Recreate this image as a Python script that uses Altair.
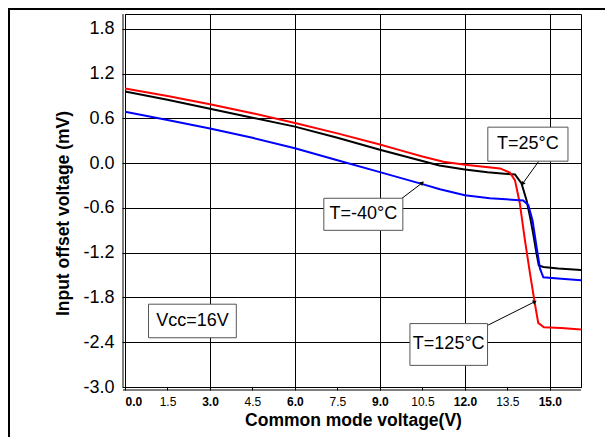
import altair as alt
import pandas as pd

# ---- data ----
x_25 = [0.0, 1.5, 3.0, 4.5, 6.0, 7.5, 9.0, 10.5, 11.1, 12.0, 12.8, 13.4, 13.77, 14.0, 14.18, 14.3, 14.41, 14.53, 14.61, 14.77, 15.3, 16.1]
y_25 = [0.96, 0.85, 0.73, 0.61, 0.49, 0.34, 0.18, 0.03, -0.03, -0.085, -0.12, -0.14, -0.15, -0.27, -0.50, -0.72, -0.94, -1.21, -1.37, -1.39, -1.41, -1.43]

x_125 = [0.0, 1.5, 3.0, 4.5, 6.0, 7.5, 9.0, 9.7, 10.5, 11.24, 12.0, 13.24, 13.59, 13.77, 13.94, 14.12, 14.3, 14.47, 14.59, 14.79, 15.4, 16.1]
y_125 = [1.00, 0.90, 0.79, 0.67, 0.54, 0.40, 0.25, 0.175, 0.09, 0.02, -0.02, -0.07, -0.125, -0.23, -0.54, -1.03, -1.48, -1.88, -2.14, -2.20, -2.21, -2.23]

x_m40 = [0.0, 1.5, 3.0, 4.5, 6.0, 7.5, 9.0, 10.41, 11.12, 12.0, 12.88, 14.06, 14.24, 14.39, 14.53, 14.65, 14.77, 15.4, 16.1]
y_m40 = [0.69, 0.58, 0.466, 0.34, 0.20, 0.04, -0.12, -0.27, -0.35, -0.43, -0.47, -0.50, -0.56, -0.77, -1.12, -1.41, -1.53, -1.55, -1.57]

series_names = ["T=25°C", "T=125°C", "T=-40°C"]
series_colors = ["#000000", "#ff0000", "#0000ff"]

x_ticks = [0.0, 1.5, 3.0, 4.5, 6.0, 7.5, 9.0, 10.5, 12.0, 13.5, 15.0]
y_ticks = [-3.0, -2.4, -1.8, -1.2, -0.6, 0.0, 0.6, 1.2, 1.8]

# annotation boxes
box_labels = ["T=25°C", "T=-40°C", "T=125°C", "Vcc=16V"]
box_x0 = [12.81, 7.02, 10.06, 0.83]
box_x1 = [15.64, 9.81, 12.80, 3.93]
box_y0 = [0.483, -0.47, -2.15, -1.89]
box_y1 = [0.027, -0.90, -2.71, -2.34]

# arrows (start x, start y, tip x, tip y, head angle)
arr_x = [14.61, 9.78, 12.82]
arr_y = [0.027, -0.47, -2.17]
arr_x2 = [14.05, 10.48, 14.45]
arr_y2 = [-0.268, -0.268, -1.86]
arr_angle = [216, 53, 63]

X_DOMAIN = [0.0, 16.1]
Y_DOMAIN = [-3.0, 2.0]
W, H = 456, 373
FONT = "Liberation Sans"
X_TITLE = "Common mode voltage(V)"
Y_TITLE = "Input offset voltage (mV)"
LABEL_EXPR = "replace(format(datum.value, '.1f'), '\u2212', '-')"

rows = []
for name, xs_, ys_ in [(series_names[0], x_25, y_25), (series_names[1], x_125, y_125), (series_names[2], x_m40, y_m40)]:
    for i, (a, b) in enumerate(zip(xs_, ys_)):
        rows.append({"series": name, "x": a, "y": b, "order": i})
df = pd.DataFrame(rows)

boxes = pd.DataFrame({
    "label": box_labels, "x0": box_x0, "x1": box_x1, "y0": box_y0, "y1": box_y1,
})
boxes["tx"] = (boxes["x0"] + boxes["x1"]) / 2
boxes["ty"] = (boxes["y0"] + boxes["y1"]) / 2
arrows = pd.DataFrame({"x": arr_x, "y": arr_y, "x2": arr_x2, "y2": arr_y2, "ang": arr_angle})

xs = alt.Scale(domain=X_DOMAIN, nice=False, zero=False)
ys = alt.Scale(domain=Y_DOMAIN, nice=False, zero=False)

x_axis = alt.Axis(
    values=x_ticks, labelExpr=LABEL_EXPR, grid=True, gridColor="black", gridWidth=1,
    gridOpacity={"condition": {"test": "datum.value % 3 === 0", "value": 1}, "value": 0},
    tickSize=3, tickColor="black",
    domainColor="black", labelFont=FONT, labelFontSize=12, labelColor="black",
    labelPadding=6,
    labelFontWeight={"condition": {"test": "datum.value % 3 === 0", "value": "bold"}, "value": "normal"},
    titleFont=FONT, titleFontSize=17.5, titleFontWeight="bold", titleColor="black", titlePadding=4,
)
y_axis = alt.Axis(
    values=y_ticks, labelExpr=LABEL_EXPR, grid=True, gridColor="black", gridWidth=1, gridOpacity=1,
    tickSize=3, tickColor="black",
    domainColor="black", labelFont=FONT, labelFontSize=18, labelColor="black",
    labelPadding=8, titleFont=FONT, titleFontSize=17.5, titleFontWeight="bold",
    titleColor="black", titlePadding=10, titleY=199,
)


def X(field):
    return alt.X(field, scale=xs, axis=x_axis, title=X_TITLE)


def Y(field):
    return alt.Y(field, scale=ys, axis=y_axis, title=Y_TITLE)


lines = alt.Chart(df).mark_line(strokeWidth=2, clip=True).encode(
    x=X("x:Q"),
    y=Y("y:Q"),
    color=alt.Color("series:N", scale=alt.Scale(domain=series_names, range=series_colors), legend=None),
    order="order:Q",
    detail="series:N",
)

arrow_lines = alt.Chart(arrows).mark_rule(color="black", strokeWidth=1).encode(
    x=X("x:Q"), y=Y("y:Q"), x2="x2:Q", y2="y2:Q",
)
arrow_heads = alt.Chart(arrows).mark_point(shape="triangle", filled=True, color="black", size=22, opacity=1).encode(
    x=X("x2:Q"), y=Y("y2:Q"),
    angle=alt.Angle("ang:Q", scale=None),
)

box_rects = alt.Chart(boxes).mark_rect(fill="white", stroke="#555555", strokeWidth=1).encode(
    x=X("x0:Q"), x2="x1:Q", y=Y("y0:Q"), y2="y1:Q",
)
box_text = alt.Chart(boxes).mark_text(font=FONT, fontSize=18, color="black", align="center", baseline="middle").encode(
    x=X("tx:Q"), y=Y("ty:Q"), text="label:N",
)

dummy = pd.DataFrame({"a": [0]})
left_double = alt.Chart(dummy).mark_rule(color="black", strokeWidth=1).encode(
    x=alt.value(-2), y=alt.value(0), y2=alt.value(H)
)
bottom_double = alt.Chart(dummy).mark_rule(color="black", strokeWidth=1).encode(
    x=alt.value(-2), x2=alt.value(W), y=alt.value(H + 3)
)
outer_left = alt.Chart(dummy).mark_rule(color="black", strokeWidth=2).encode(
    x=alt.value(-116), y=alt.value(-6), y2=alt.value(H + 60)
)
outer_top = alt.Chart(dummy).mark_rule(color="black", strokeWidth=2).encode(
    x=alt.value(-117), x2=alt.value(W + 40), y=alt.value(-5)
)

chart = alt.layer(
    lines, arrow_lines, arrow_heads, box_rects, box_text,
    left_double, bottom_double, outer_left, outer_top,
).properties(
    width=W, height=H,
    autosize=alt.AutoSizeParams(type="none"),
    padding={"left": 117, "top": 6, "right": 24, "bottom": 50},
    background="white",
).configure_view(stroke="black", strokeWidth=1)

chart.save("out.html", embed_options={"renderer": "svg", "actions": False})
